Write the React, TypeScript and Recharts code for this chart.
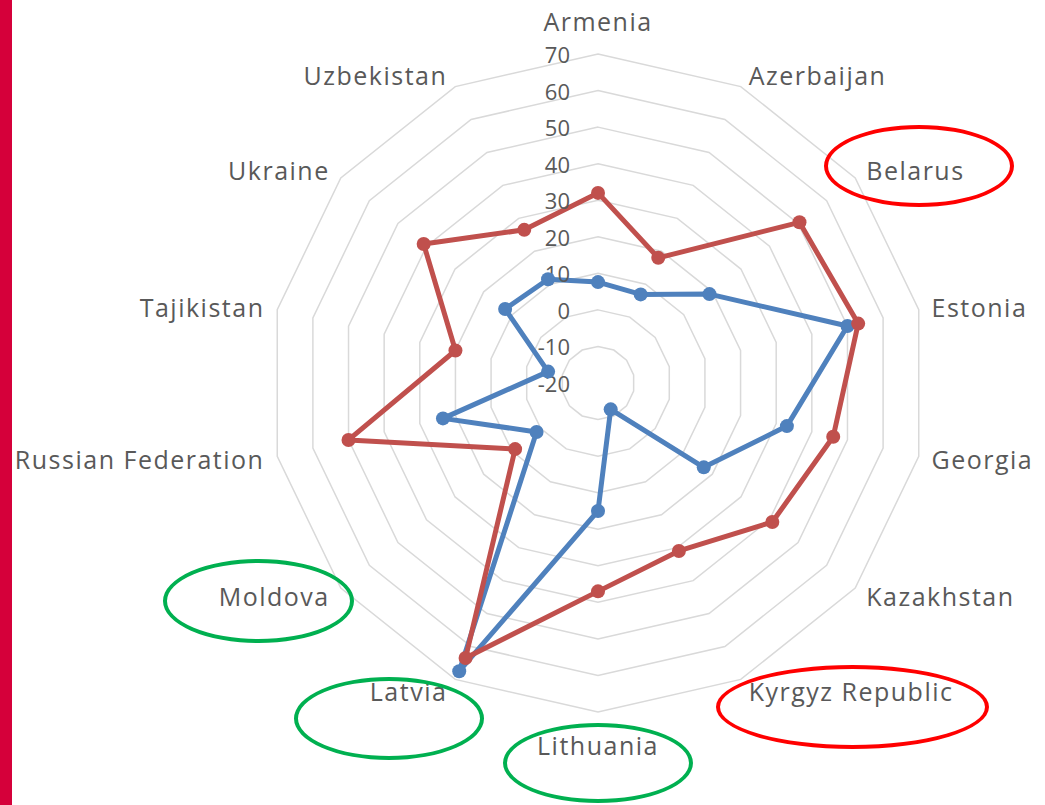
import React from 'react';
import { RadarChart, Radar, PolarGrid, PolarAngleAxis, PolarRadiusAxis } from 'recharts';

const countries = [
  'Armenia',
  'Azerbaijan',
  'Belarus',
  'Estonia',
  'Georgia',
  'Kazakhstan',
  'Kyrgyz Republic',
  'Lithuania',
  'Latvia',
  'Moldova',
  'Russian Federation',
  'Tajikistan',
  'Ukraine',
  'Uzbekistan',
];

const seriesBlue = [7.6, 6.9, 19, 50, 33, 17, -12, 15, 67.5, 1.5, 23.5, -6, 12.5, 11.5];
const seriesRed = [32, 18, 50.5, 53, 46, 41, 31, 37, 63.5, 9, 50, 20, 41, 26.5];

const radiusTicks = [-20, -10, 0, 10, 20, 30, 40, 50, 60, 70];

const data = countries.map((country, i) => ({
  country,
  blue: seriesBlue[i],
  red: seriesRed[i],
}));

const CX = 598;
const CY = 383;
const R = 329;
const FONT = '"Open Sans", "DejaVu Sans", sans-serif';
const TEXT = '#595959';
const BLUE = '#4F81BD';
const RED = '#C0504D';

// country labels placed just outside the outer ring, like Excel does
const AngleTick = (props: any) => {
  const { index, payload } = props;
  const a = (index * 2 * Math.PI) / countries.length;
  const s = Math.sin(a);
  const c = Math.cos(a);
  const vx = CX + R * s;
  const vy = CY - R * c;
  let x = vx;
  let y = vy;
  let anchor: 'start' | 'middle' | 'end' = 'middle';
  if (Math.abs(s) < 0.01) {
    y = vy + (c > 0 ? -33 : 33);
  } else {
    anchor = s > 0 ? 'start' : 'end';
    x = vx + Math.sign(s) * (4 + 9 * Math.abs(s));
    y = vy - 13 * c;
  }
  return (
    <text
      x={x}
      y={y}
      textAnchor={anchor}
      dominantBaseline="central"
      fontSize={25}
      letterSpacing={1.5}
      fill={TEXT}
      fontFamily={FONT}
    >
      {payload.value}
    </text>
  );
};

const RadiusTick = (props: any) => {
  const { x, y, payload } = props;
  return (
    <text x={x - 28} y={y} textAnchor="end" dominantBaseline="central" fontSize={22} fill={TEXT} fontFamily={FONT}>
      {payload.value}
    </text>
  );
};

const makeDot = (color: string) => (props: any) => {
  const { cx, cy, index } = props;
  return <circle key={`d-${color}-${index}`} cx={cx} cy={cy} r={7} fill={color} stroke="none" />;
};

const Ring = ({ left, top, width, height, color }: any) => (
  <div
    style={{
      position: 'absolute',
      left,
      top,
      width: width - 8,
      height: height - 8,
      border: `4px solid ${color}`,
      borderRadius: '50%',
      pointerEvents: 'none',
    }}
  />
);

export default function App() {
  return (
    <div style={{ position: 'absolute', left: 0, top: 0, width: 1045, height: 805, background: '#fff', overflow: 'hidden' }}>
      <div style={{ position: 'absolute', left: 0, top: 0, width: 12, height: 805, background: '#D5003A' }} />
      <RadarChart
        width={1045}
        height={805}
        cx={CX}
        cy={CY}
        outerRadius={R}
        data={data}
        margin={{ top: 0, right: 0, bottom: 0, left: 0 }}
      >
        <PolarGrid gridType="polygon" radialLines={false} stroke="#D9D9D9" strokeWidth={1.5} />
        <PolarAngleAxis dataKey="country" tick={<AngleTick />} tickLine={false} axisLine={false} />
        <PolarRadiusAxis
          angle={90}
          type="number"
          domain={[-20, 70]}
          ticks={radiusTicks as any}
          tickCount={10}
          axisLine={false}
          tickLine={false}
          tick={<RadiusTick />}
        />
        <Radar
          dataKey="blue"
          stroke={BLUE}
          strokeWidth={5}
          strokeLinejoin="round"
          fill="none"
          fillOpacity={0}
          dot={makeDot(BLUE)}
          isAnimationActive={false}
        />
        <Radar
          dataKey="red"
          stroke={RED}
          strokeWidth={5}
          strokeLinejoin="round"
          fill="none"
          fillOpacity={0}
          dot={makeDot(RED)}
          isAnimationActive={false}
        />
      </RadarChart>
      <Ring left={824} top={125} width={190} height={82} color="#FF0000" />
      <Ring left={716} top={665} width={273} height={84} color="#FF0000" />
      <Ring left={163} top={559} width={191} height={84} color="#00B050" />
      <Ring left={294} top={677} width={190} height={83} color="#00B050" />
      <Ring left={503} top={723} width={190} height={80} color="#00B050" />
    </div>
  );
}
